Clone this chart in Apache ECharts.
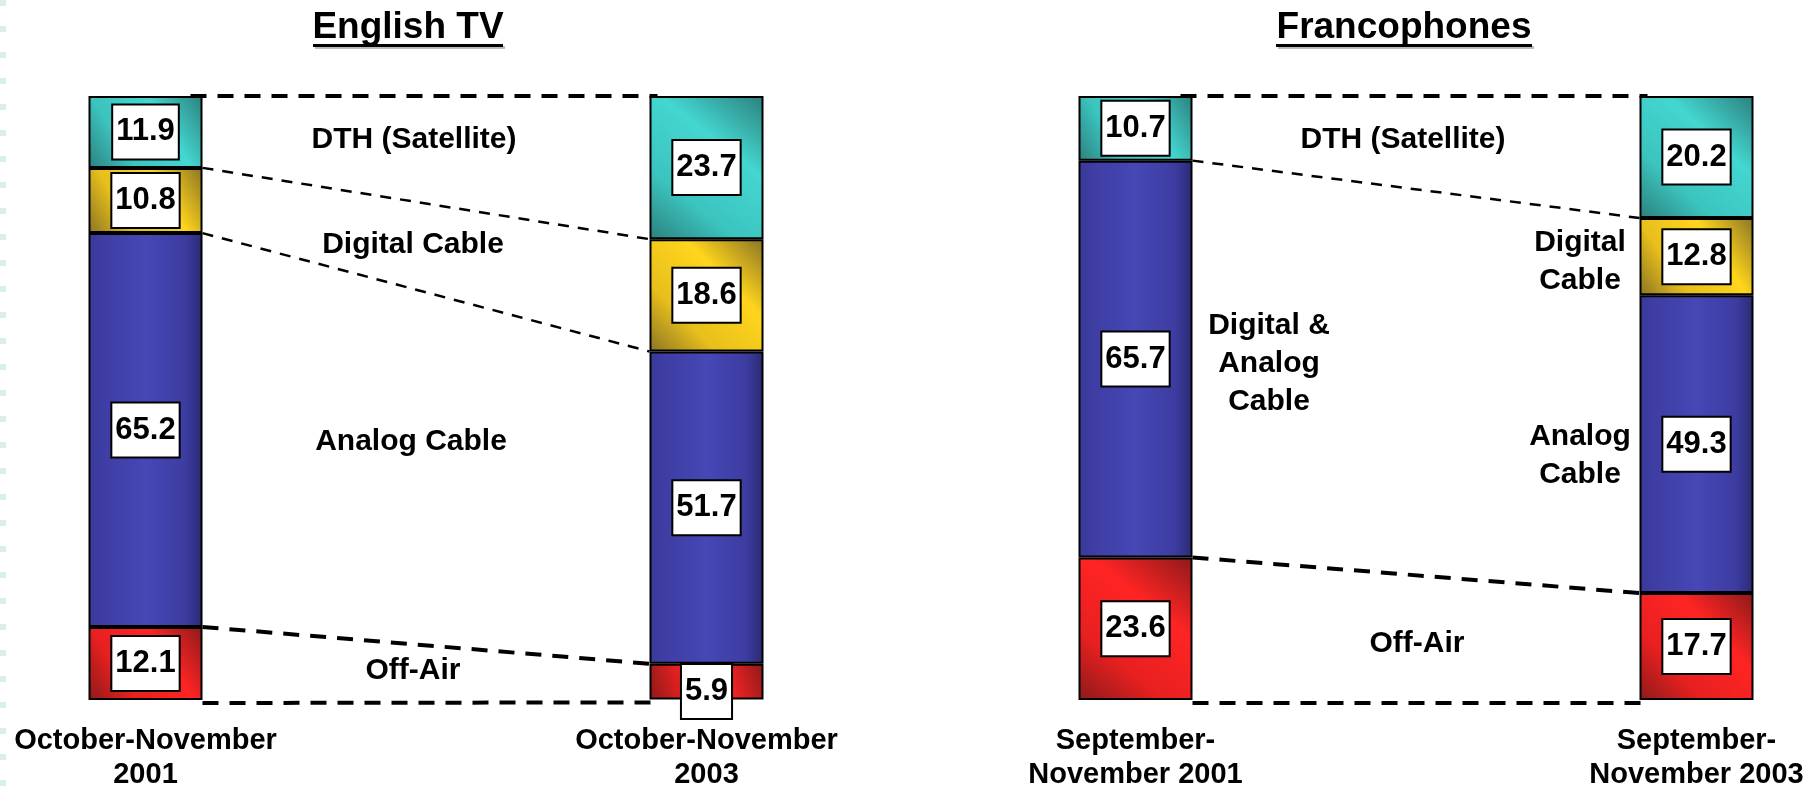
<!DOCTYPE html>
<html>
<head>
<meta charset="utf-8">
<script src="https://cdn.jsdelivr.net/npm/echarts@6/dist/echarts.min.js"></script>
<style>
html,body{margin:0;padding:0;background:#fff;}
#chart{width:1814px;height:786px;}
</style>
</head>
<body>
<div id="chart"></div>
<script>
// ---- Data ----
const titles = ['English TV', 'Francophones'];
const categoriesEn = ['October-November\n2001', 'October-November\n2003'];
const categoriesFr = ['September-\nNovember 2001', 'September-\nNovember 2003'];
const segmentKeys = ['DTH', 'Digital', 'Analog', 'OffAir'];
const enDTH = [11.9, 23.7];
const enDigital = [10.8, 18.6];
const enAnalog = [65.2, 51.7];
const enOffAir = [12.1, 5.9];
const frDTH = [10.7, 20.2];
const frDigital = [null, 12.8];
const frAnalog = [65.7, 49.3];   // 2001: Digital & Analog Cable combined
const frOffAir = [23.6, 17.7];
const enSegmentLabels = ['DTH (Satellite)', 'Digital Cable', 'Analog Cable', 'Off-Air'];
const frSegmentLabels = ['DTH (Satellite)', 'Digital\nCable', 'Digital &\nAnalog\nCable', 'Analog\nCable', 'Off-Air'];

// ---- Styling ----
const FONT = '"Liberation Sans", Arial, sans-serif';
function grad(dark, mid, light) {
  return {type: 'linear', x: 1, y: 0, x2: 0, y2: 1, colorStops: [
    {offset: 0, color: dark}, {offset: 0.35, color: light}, {offset: 0.7, color: mid}, {offset: 1, color: dark}
  ]};
}
const colors = {
  DTH: grad('#2c807c', '#3cc4bf', '#44d6d0'),
  Digital: grad('#8a7424', '#e8bf1c', '#ffd51c'),
  Analog: {type: 'linear', x: 0, y: 0, x2: 1, y2: 0, colorStops: [
    {offset: 0, color: '#3a3a9c'}, {offset: 0.5, color: '#4747b6'}, {offset: 0.85, color: '#3c3ca0'}, {offset: 1, color: '#2a2a74'}]},
  OffAir: grad('#8c1a1a', '#e82020', '#ff2424')
};

const grids = [
  {left: -135, top: 96, width: 1122, height: 604, outerBoundsMode: 'none', containLabel: false},
  {left: 855, top: 96, width: 1122, height: 604, outerBoundsMode: 'none', containLabel: false}
];
const datasets = [
  {cats: categoriesEn, series: [enDTH, enDigital, enAnalog, enOffAir]},
  {cats: categoriesFr, series: [frDTH, frDigital, frAnalog, frOffAir]}
];
const BAR_W = 114;

const xAxes = [], yAxes = [], series = [];
datasets.forEach((d, g) => {
  xAxes.push({
    type: 'category', gridIndex: g, data: d.cats,
    axisLine: {show: false}, axisTick: {show: false}, splitLine: {show: false},
    axisLabel: {show: true, interval: 0, margin: 24, color: '#000', fontFamily: FONT,
      fontWeight: 'bold', fontSize: 29, lineHeight: 34}
  });
  yAxes.push({type: 'value', gridIndex: g, min: 0, max: 100, inverse: true, show: false});
  d.series.forEach((vals, s) => {
    series.push({
      type: 'bar', name: segmentKeys[s], xAxisIndex: g, yAxisIndex: g, stack: 'st' + g,
      barWidth: BAR_W,
      data: vals.map(v => (v != null && v < 8 ? {value: v, label: {offset: [0, 10]}} : v)),
      itemStyle: {color: colors[segmentKeys[s]], borderColor: '#000', borderWidth: 2},
      label: {
        show: true, position: 'inside', overflow: 'none',
        formatter: p => (p.value == null ? '' : p.value.toFixed(1)),
        color: '#000', fontFamily: FONT, fontWeight: 'bold', fontSize: 31,
        height: 31, lineHeight: 31, verticalAlign: 'middle',
        backgroundColor: '#fff', borderColor: '#000', borderWidth: 2, padding: [11, 3]
      },
      emphasis: {disabled: true}
    });
  });
});

const chart = echarts.init(document.getElementById('chart'), null, {renderer: 'canvas'});
chart.setOption({
  backgroundColor: '#fff',
  animation: false,
  grid: grids,
  xAxis: xAxes,
  yAxis: yAxes,
  series: series
});

// ---- Connector lines & annotations (computed via axes) ----
const graphics = [];
graphics.push({type: 'line', shape: {x1: 3, y1: 0, x2: 3, y2: 786},
  style: {stroke: '#d6efef', lineWidth: 6, lineDash: [6, 20]}, silent: true});

datasets.forEach((d, g) => {
  const cum = [0, 1].map(i => {
    const arr = [0]; let c = 0;
    d.series.forEach(v => { c += (v[i] || 0); arr.push(c); });
    return arr;
  });
  const links = g === 0 ? [0, 1, 2, 3, 4] : [0, 1, 3, 4];
  links.forEach(k => {
    const p1 = chart.convertToPixel({xAxisIndex: g, yAxisIndex: g}, [0, cum[0][k]]);
    const p2 = chart.convertToPixel({xAxisIndex: g, yAxisIndex: g}, [1, cum[1][k]]);
    const thick = (k === 0 || k >= 3);
    graphics.push({type: 'line', z: 10,
      shape: {x1: p1[0] + BAR_W / 2 - (k === 0 ? 12 : 0), y1: p1[1] + (k === 4 ? 3 : 0),
              x2: p2[0] - BAR_W / 2 + (k === 0 || k === 4 ? 8 : 0), y2: p2[1] + (k === 4 ? 3 : 0)},
      style: {stroke: '#000', lineWidth: thick ? 4 : 2.5, lineDash: thick ? [16, 11] : [11, 9]}});
  });
});

const titleCenters = [[408, 28, 190], [1404, 28, 256]];
titles.forEach((t, i) => {
  const [cx, cy, w] = titleCenters[i];
  graphics.push({type: 'text', x: cx, y: cy, z: 20, style: {
    text: t, align: 'center', verticalAlign: 'middle', fill: '#000',
    font: 'bold 37px ' + FONT, shadowColor: 'rgba(0,0,0,0.3)', shadowOffsetX: 2, shadowOffsetY: 2, shadowBlur: 1}});
  graphics.push({type: 'rect', z: 19, shape: {x: cx - w / 2 + 2, y: 46, width: w, height: 3}, style: {fill: '#bbb'}});
  graphics.push({type: 'rect', z: 20, shape: {x: cx - w / 2, y: 44, width: w, height: 3}, style: {fill: '#000'}});
});

const enPos = [[414, 140], [413, 245], [411, 442], [413, 671]];
const frPos = [[1403, 140], [1580, 262], [1269, 364], [1580, 456], [1417, 644]];
function addLabels(labels, pos) {
  labels.forEach((t, i) => {
    graphics.push({type: 'text', x: pos[i][0], y: pos[i][1], z: 20, style: {
      text: t, align: 'center', verticalAlign: 'middle', fill: '#000',
      font: 'bold 30px ' + FONT, lineHeight: 38}});
  });
}
addLabels(enSegmentLabels, enPos);
addLabels(frSegmentLabels, frPos);

chart.setOption({graphic: graphics});
</script>
</body>
</html>
